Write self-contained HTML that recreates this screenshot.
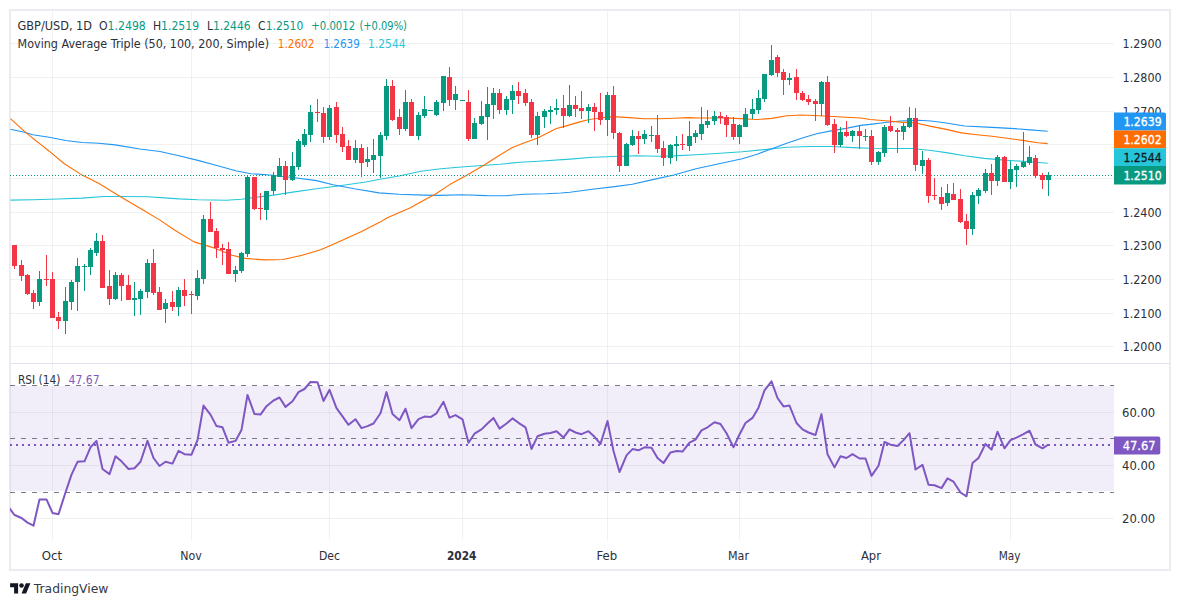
<!DOCTYPE html><html><head><meta charset="utf-8"><style>
html,body{margin:0;padding:0;background:#fff;}
body{width:1180px;height:607px;overflow:hidden;position:relative;}
svg{position:absolute;left:0;top:0;}
text{font-family:"DejaVu Sans","Liberation Sans",sans-serif;}
</style></head><body>
<svg width="1180" height="607" viewBox="0 0 1180 607">
<defs><clipPath id="mp"><rect x="10" y="10" width="1104" height="353"/></clipPath><clipPath id="rp"><rect x="10" y="364" width="1104" height="176"/></clipPath></defs>
<rect x="10" y="10" width="1160" height="560" fill="none" stroke="#eaecf1" stroke-width="2"/>
<rect x="10" y="346" width="1104" height="1" fill="rgba(42,46,57,0.065)"/>
<rect x="10" y="313" width="1104" height="1" fill="rgba(42,46,57,0.065)"/>
<rect x="10" y="279" width="1104" height="1" fill="rgba(42,46,57,0.065)"/>
<rect x="10" y="245" width="1104" height="1" fill="rgba(42,46,57,0.065)"/>
<rect x="10" y="212" width="1104" height="1" fill="rgba(42,46,57,0.065)"/>
<rect x="10" y="178" width="1104" height="1" fill="rgba(42,46,57,0.065)"/>
<rect x="10" y="144" width="1104" height="1" fill="rgba(42,46,57,0.065)"/>
<rect x="10" y="111" width="1104" height="1" fill="rgba(42,46,57,0.065)"/>
<rect x="10" y="77" width="1104" height="1" fill="rgba(42,46,57,0.065)"/>
<rect x="10" y="43" width="1104" height="1" fill="rgba(42,46,57,0.065)"/>
<rect x="52.0" y="11" width="1" height="352" fill="rgba(42,46,57,0.065)"/>
<rect x="52.0" y="364" width="1" height="176" fill="rgba(42,46,57,0.065)"/>
<rect x="191.0" y="11" width="1" height="352" fill="rgba(42,46,57,0.065)"/>
<rect x="191.0" y="364" width="1" height="176" fill="rgba(42,46,57,0.065)"/>
<rect x="329.0" y="11" width="1" height="352" fill="rgba(42,46,57,0.065)"/>
<rect x="329.0" y="364" width="1" height="176" fill="rgba(42,46,57,0.065)"/>
<rect x="462.0" y="11" width="1" height="352" fill="rgba(42,46,57,0.065)"/>
<rect x="462.0" y="364" width="1" height="176" fill="rgba(42,46,57,0.065)"/>
<rect x="607.0" y="11" width="1" height="352" fill="rgba(42,46,57,0.065)"/>
<rect x="607.0" y="364" width="1" height="176" fill="rgba(42,46,57,0.065)"/>
<rect x="739.0" y="11" width="1" height="352" fill="rgba(42,46,57,0.065)"/>
<rect x="739.0" y="364" width="1" height="176" fill="rgba(42,46,57,0.065)"/>
<rect x="871.0" y="11" width="1" height="352" fill="rgba(42,46,57,0.065)"/>
<rect x="871.0" y="364" width="1" height="176" fill="rgba(42,46,57,0.065)"/>
<rect x="1010.0" y="11" width="1" height="352" fill="rgba(42,46,57,0.065)"/>
<rect x="1010.0" y="364" width="1" height="176" fill="rgba(42,46,57,0.065)"/>
<rect x="10" y="363" width="1160" height="1" fill="#e0e3eb"/>
<rect x="10" y="386" width="1104" height="105" fill="#7e57c2" fill-opacity="0.1"/>
<rect x="10" y="412" width="1104" height="1" fill="rgba(42,46,57,0.065)"/>
<rect x="10" y="465" width="1104" height="1" fill="rgba(42,46,57,0.065)"/>
<rect x="10" y="518" width="1104" height="1" fill="rgba(42,46,57,0.065)"/>
<line x1="10" y1="385.5" x2="1114" y2="385.5" stroke="#787b86" stroke-width="1" stroke-dasharray="5 6"/>
<line x1="10" y1="438.5" x2="1114" y2="438.5" stroke="#787b86" stroke-width="1" stroke-dasharray="5 6"/>
<line x1="10" y1="492.5" x2="1114" y2="492.5" stroke="#787b86" stroke-width="1" stroke-dasharray="5 6"/>
<g clip-path="url(#mp)">
<polyline points="10.5,200.1 32.7,199.8 57.4,199.0 82.1,198.1 103.6,196.5 123.3,196.5 148.0,196.8 168.0,198.1 178.9,198.9 197.9,199.8 226.3,200.2 241.5,199.3 254.7,197.4 273.7,195.1 292.6,192.1 316.5,188.8 337.9,186.0 365.9,182.0 380.0,179.3 400.3,175.7 420.7,171.3 441.0,168.7 461.4,167.0 481.7,165.5 500.0,164.2 520.0,162.2 538.6,161.2 570.0,159.1 592.2,157.2 614.5,156.5 636.7,155.7 659.0,156.2 673.8,155.9 696.0,154.7 720.0,153.3 742.2,151.8 764.5,149.6 786.7,147.2 809.0,146.5 831.2,146.5 853.5,147.6 870.0,148.2 892.9,148.5 912.7,148.5 931.0,150.5 946.3,152.6 964.6,155.8 984.4,158.4 1007.3,160.4 1030.2,161.7 1047.7,163.3" fill="none" stroke="#26c6da" stroke-width="1.1" stroke-linejoin="round"/>
<polyline points="10.5,129.3 24.5,132.2 32.7,134.7 49.2,137.2 65.7,140.5 82.1,142.5 98.6,143.3 115.1,144.9 139.8,149.0 160.0,151.5 178.9,155.7 197.9,160.4 216.8,165.5 235.8,170.8 250.9,173.7 269.9,175.0 292.6,177.5 316.5,180.6 333.0,184.7 354.4,188.8 379.1,192.9 398.8,194.3 423.6,195.1 440.0,195.4 461.5,194.8 486.7,195.6 506.0,195.7 523.8,194.2 546.0,193.8 560.9,193.0 570.0,192.2 592.2,189.2 614.5,186.6 632.3,184.3 651.6,179.9 673.8,175.0 696.0,168.8 719.0,163.8 742.2,158.8 757.1,154.3 771.9,148.7 786.7,143.2 801.6,138.3 816.4,133.8 831.2,130.9 846.0,128.4 860.9,125.4 870.0,124.4 885.3,122.5 900.5,121.0 918.8,120.3 931.0,121.0 946.3,123.0 964.6,126.0 992.0,127.4 1014.9,128.6 1030.2,129.9 1047.7,131.2" fill="none" stroke="#2196f3" stroke-width="1.1" stroke-linejoin="round"/>
<polyline points="10.5,118.6 20.0,127.4 24.5,131.4 32.7,138.2 40.0,143.9 49.2,151.2 64.0,163.5 82.1,175.1 98.6,183.3 120.0,196.5 143.1,210.0 160.0,220.1 175.2,230.5 194.1,241.9 213.0,247.6 232.0,255.2 245.3,258.4 264.2,259.9 283.2,259.5 302.1,255.2 321.4,249.5 341.2,240.7 361.0,231.7 379.1,222.6 387.3,217.7 410.4,207.8 425.2,199.5 434.8,194.5 449.7,184.6 466.7,175.2 483.8,165.2 497.1,156.7 511.9,147.8 523.8,142.9 537.1,138.2 546.0,133.7 556.4,128.5 563.8,126.6 578.9,122.1 589.3,119.5 599.7,118.0 608.6,116.9 617.4,116.9 629.3,117.6 644.1,118.8 659.0,118.8 673.8,118.3 688.6,117.6 699.0,118.0 710.9,118.0 720.0,117.6 734.8,118.4 757.1,119.5 771.9,118.4 786.7,115.8 801.6,115.0 823.8,116.0 846.0,117.3 860.9,118.0 870.0,119.5 885.3,120.7 900.5,122.1 915.8,123.0 931.0,126.4 946.3,129.4 961.5,132.9 976.8,134.7 992.0,136.3 1007.3,138.3 1022.5,140.4 1037.8,142.7 1047.7,143.6" fill="none" stroke="#ff6d00" stroke-width="1.1" stroke-linejoin="round"/>
<line x1="10" y1="175.5" x2="1114" y2="175.5" stroke="#089981" stroke-width="1" stroke-dasharray="1 2"/>
<rect x="14" y="245" width="1" height="24" fill="#f23645"/>
<rect x="12" y="245" width="5" height="21" fill="#f23645"/>
<rect x="21" y="260" width="1" height="21" fill="#f23645"/>
<rect x="19" y="265" width="5" height="11" fill="#f23645"/>
<rect x="27" y="274" width="1" height="21" fill="#f23645"/>
<rect x="25" y="275" width="5" height="19" fill="#f23645"/>
<rect x="33" y="290" width="1" height="19" fill="#f23645"/>
<rect x="31" y="293" width="5" height="9" fill="#f23645"/>
<rect x="39" y="271" width="1" height="35" fill="#089981"/>
<rect x="37" y="279" width="5" height="23" fill="#089981"/>
<rect x="46" y="255" width="1" height="31" fill="#f23645"/>
<rect x="44" y="279" width="5" height="1" fill="#f23645"/>
<rect x="52" y="272" width="1" height="46" fill="#f23645"/>
<rect x="50" y="279" width="5" height="39" fill="#f23645"/>
<rect x="58" y="312" width="1" height="17" fill="#f23645"/>
<rect x="56" y="317" width="5" height="4" fill="#f23645"/>
<rect x="65" y="287" width="1" height="47" fill="#089981"/>
<rect x="63" y="301" width="5" height="20" fill="#089981"/>
<rect x="71" y="280" width="1" height="30" fill="#089981"/>
<rect x="69" y="282" width="5" height="20" fill="#089981"/>
<rect x="77" y="258" width="1" height="53" fill="#089981"/>
<rect x="75" y="266" width="5" height="16" fill="#089981"/>
<rect x="84" y="264" width="1" height="27" fill="#089981"/>
<rect x="82" y="266" width="5" height="1" fill="#089981"/>
<rect x="90" y="248" width="1" height="27" fill="#089981"/>
<rect x="88" y="250" width="5" height="17" fill="#089981"/>
<rect x="96" y="233" width="1" height="23" fill="#089981"/>
<rect x="94" y="241" width="5" height="12" fill="#089981"/>
<rect x="102" y="235" width="1" height="53" fill="#f23645"/>
<rect x="100" y="241" width="5" height="47" fill="#f23645"/>
<rect x="109" y="270" width="1" height="35" fill="#f23645"/>
<rect x="107" y="286" width="5" height="13" fill="#f23645"/>
<rect x="115" y="272" width="1" height="28" fill="#089981"/>
<rect x="113" y="275" width="5" height="24" fill="#089981"/>
<rect x="121" y="273" width="1" height="28" fill="#f23645"/>
<rect x="119" y="275" width="5" height="11" fill="#f23645"/>
<rect x="128" y="275" width="1" height="25" fill="#f23645"/>
<rect x="126" y="285" width="5" height="15" fill="#f23645"/>
<rect x="134" y="282" width="1" height="34" fill="#089981"/>
<rect x="132" y="298" width="5" height="2" fill="#089981"/>
<rect x="140" y="289" width="1" height="26" fill="#089981"/>
<rect x="138" y="291" width="5" height="8" fill="#089981"/>
<rect x="147" y="259" width="1" height="39" fill="#089981"/>
<rect x="145" y="263" width="5" height="29" fill="#089981"/>
<rect x="153" y="249" width="1" height="46" fill="#f23645"/>
<rect x="151" y="263" width="5" height="30" fill="#f23645"/>
<rect x="159" y="287" width="1" height="23" fill="#f23645"/>
<rect x="157" y="292" width="5" height="18" fill="#f23645"/>
<rect x="165" y="299" width="1" height="24" fill="#089981"/>
<rect x="163" y="303" width="5" height="6" fill="#089981"/>
<rect x="172" y="291" width="1" height="20" fill="#f23645"/>
<rect x="170" y="302" width="5" height="5" fill="#f23645"/>
<rect x="178" y="287" width="1" height="29" fill="#089981"/>
<rect x="176" y="290" width="5" height="17" fill="#089981"/>
<rect x="184" y="279" width="1" height="27" fill="#f23645"/>
<rect x="182" y="290" width="5" height="6" fill="#f23645"/>
<rect x="191" y="291" width="1" height="23" fill="#f23645"/>
<rect x="189" y="294" width="5" height="1" fill="#f23645"/>
<rect x="197" y="270" width="1" height="30" fill="#089981"/>
<rect x="195" y="278" width="5" height="18" fill="#089981"/>
<rect x="203" y="215" width="1" height="69" fill="#089981"/>
<rect x="201" y="219" width="5" height="60" fill="#089981"/>
<rect x="210" y="202" width="1" height="30" fill="#f23645"/>
<rect x="208" y="219" width="5" height="13" fill="#f23645"/>
<rect x="216" y="228" width="1" height="30" fill="#f23645"/>
<rect x="214" y="231" width="5" height="17" fill="#f23645"/>
<rect x="222" y="244" width="1" height="21" fill="#f23645"/>
<rect x="220" y="248" width="5" height="2" fill="#f23645"/>
<rect x="228" y="242" width="1" height="32" fill="#f23645"/>
<rect x="226" y="249" width="5" height="25" fill="#f23645"/>
<rect x="235" y="266" width="1" height="16" fill="#089981"/>
<rect x="233" y="270" width="5" height="4" fill="#089981"/>
<rect x="241" y="252" width="1" height="21" fill="#089981"/>
<rect x="239" y="253" width="5" height="18" fill="#089981"/>
<rect x="247" y="175" width="1" height="82" fill="#089981"/>
<rect x="245" y="177" width="5" height="77" fill="#089981"/>
<rect x="254" y="177" width="1" height="33" fill="#f23645"/>
<rect x="252" y="177" width="5" height="32" fill="#f23645"/>
<rect x="260" y="193" width="1" height="27" fill="#f23645"/>
<rect x="258" y="208" width="5" height="1" fill="#f23645"/>
<rect x="266" y="191" width="1" height="29" fill="#089981"/>
<rect x="264" y="191" width="5" height="19" fill="#089981"/>
<rect x="273" y="172" width="1" height="23" fill="#089981"/>
<rect x="271" y="175" width="5" height="16" fill="#089981"/>
<rect x="279" y="158" width="1" height="19" fill="#089981"/>
<rect x="277" y="166" width="5" height="11" fill="#089981"/>
<rect x="285" y="161" width="1" height="34" fill="#f23645"/>
<rect x="283" y="166" width="5" height="14" fill="#f23645"/>
<rect x="292" y="152" width="1" height="29" fill="#089981"/>
<rect x="290" y="166" width="5" height="14" fill="#089981"/>
<rect x="298" y="139" width="1" height="31" fill="#089981"/>
<rect x="296" y="141" width="5" height="26" fill="#089981"/>
<rect x="304" y="129" width="1" height="18" fill="#089981"/>
<rect x="302" y="134" width="5" height="11" fill="#089981"/>
<rect x="310" y="105" width="1" height="37" fill="#089981"/>
<rect x="308" y="112" width="5" height="23" fill="#089981"/>
<rect x="317" y="99" width="1" height="23" fill="#f23645"/>
<rect x="315" y="112" width="5" height="1" fill="#f23645"/>
<rect x="323" y="107" width="1" height="36" fill="#f23645"/>
<rect x="321" y="113" width="5" height="24" fill="#f23645"/>
<rect x="329" y="105" width="1" height="35" fill="#089981"/>
<rect x="327" y="108" width="5" height="29" fill="#089981"/>
<rect x="336" y="102" width="1" height="41" fill="#f23645"/>
<rect x="334" y="107" width="5" height="28" fill="#f23645"/>
<rect x="342" y="127" width="1" height="25" fill="#f23645"/>
<rect x="340" y="134" width="5" height="13" fill="#f23645"/>
<rect x="348" y="140" width="1" height="20" fill="#f23645"/>
<rect x="346" y="146" width="5" height="14" fill="#f23645"/>
<rect x="355" y="140" width="1" height="23" fill="#089981"/>
<rect x="353" y="148" width="5" height="12" fill="#089981"/>
<rect x="361" y="144" width="1" height="33" fill="#f23645"/>
<rect x="359" y="148" width="5" height="15" fill="#f23645"/>
<rect x="367" y="147" width="1" height="20" fill="#089981"/>
<rect x="365" y="159" width="5" height="3" fill="#089981"/>
<rect x="373" y="139" width="1" height="34" fill="#089981"/>
<rect x="371" y="155" width="5" height="5" fill="#089981"/>
<rect x="380" y="132" width="1" height="46" fill="#089981"/>
<rect x="378" y="135" width="5" height="21" fill="#089981"/>
<rect x="386" y="79" width="1" height="61" fill="#089981"/>
<rect x="384" y="86" width="5" height="50" fill="#089981"/>
<rect x="392" y="80" width="1" height="41" fill="#f23645"/>
<rect x="390" y="86" width="5" height="34" fill="#f23645"/>
<rect x="399" y="109" width="1" height="26" fill="#f23645"/>
<rect x="397" y="117" width="5" height="12" fill="#f23645"/>
<rect x="405" y="90" width="1" height="41" fill="#089981"/>
<rect x="403" y="102" width="5" height="27" fill="#089981"/>
<rect x="411" y="99" width="1" height="37" fill="#f23645"/>
<rect x="409" y="102" width="5" height="34" fill="#f23645"/>
<rect x="418" y="112" width="1" height="28" fill="#089981"/>
<rect x="416" y="115" width="5" height="21" fill="#089981"/>
<rect x="424" y="96" width="1" height="22" fill="#089981"/>
<rect x="422" y="109" width="5" height="7" fill="#089981"/>
<rect x="430" y="110" width="1" height="1" fill="#089981"/>
<rect x="428" y="110" width="5" height="1" fill="#089981"/>
<rect x="436" y="100" width="1" height="16" fill="#089981"/>
<rect x="434" y="102" width="5" height="13" fill="#089981"/>
<rect x="443" y="76" width="1" height="35" fill="#089981"/>
<rect x="441" y="76" width="5" height="27" fill="#089981"/>
<rect x="449" y="67" width="1" height="39" fill="#f23645"/>
<rect x="447" y="77" width="5" height="23" fill="#f23645"/>
<rect x="455" y="86" width="1" height="24" fill="#089981"/>
<rect x="453" y="94" width="5" height="6" fill="#089981"/>
<rect x="462" y="100" width="1" height="1" fill="#089981"/>
<rect x="460" y="100" width="5" height="1" fill="#089981"/>
<rect x="468" y="90" width="1" height="51" fill="#f23645"/>
<rect x="466" y="102" width="5" height="37" fill="#f23645"/>
<rect x="474" y="118" width="1" height="21" fill="#089981"/>
<rect x="472" y="123" width="5" height="16" fill="#089981"/>
<rect x="481" y="101" width="1" height="24" fill="#089981"/>
<rect x="479" y="116" width="5" height="8" fill="#089981"/>
<rect x="487" y="87" width="1" height="53" fill="#089981"/>
<rect x="485" y="104" width="5" height="13" fill="#089981"/>
<rect x="493" y="88" width="1" height="31" fill="#089981"/>
<rect x="491" y="93" width="5" height="12" fill="#089981"/>
<rect x="499" y="89" width="1" height="25" fill="#f23645"/>
<rect x="497" y="93" width="5" height="17" fill="#f23645"/>
<rect x="506" y="96" width="1" height="19" fill="#089981"/>
<rect x="504" y="99" width="5" height="11" fill="#089981"/>
<rect x="512" y="85" width="1" height="29" fill="#089981"/>
<rect x="510" y="91" width="5" height="9" fill="#089981"/>
<rect x="518" y="82" width="1" height="22" fill="#f23645"/>
<rect x="516" y="91" width="5" height="5" fill="#f23645"/>
<rect x="525" y="89" width="1" height="17" fill="#f23645"/>
<rect x="523" y="93" width="5" height="10" fill="#f23645"/>
<rect x="531" y="99" width="1" height="39" fill="#f23645"/>
<rect x="529" y="102" width="5" height="33" fill="#f23645"/>
<rect x="537" y="112" width="1" height="33" fill="#089981"/>
<rect x="535" y="116" width="5" height="19" fill="#089981"/>
<rect x="544" y="109" width="1" height="19" fill="#089981"/>
<rect x="542" y="111" width="5" height="6" fill="#089981"/>
<rect x="550" y="106" width="1" height="18" fill="#089981"/>
<rect x="548" y="110" width="5" height="2" fill="#089981"/>
<rect x="556" y="99" width="1" height="16" fill="#089981"/>
<rect x="554" y="108" width="5" height="2" fill="#089981"/>
<rect x="563" y="95" width="1" height="33" fill="#f23645"/>
<rect x="561" y="108" width="5" height="8" fill="#f23645"/>
<rect x="569" y="85" width="1" height="32" fill="#089981"/>
<rect x="567" y="105" width="5" height="11" fill="#089981"/>
<rect x="575" y="96" width="1" height="21" fill="#f23645"/>
<rect x="573" y="105" width="5" height="4" fill="#f23645"/>
<rect x="581" y="91" width="1" height="28" fill="#f23645"/>
<rect x="579" y="108" width="5" height="3" fill="#f23645"/>
<rect x="588" y="104" width="1" height="19" fill="#089981"/>
<rect x="586" y="107" width="5" height="4" fill="#089981"/>
<rect x="594" y="103" width="1" height="28" fill="#f23645"/>
<rect x="592" y="107" width="5" height="5" fill="#f23645"/>
<rect x="600" y="93" width="1" height="32" fill="#f23645"/>
<rect x="598" y="112" width="5" height="8" fill="#f23645"/>
<rect x="607" y="92" width="1" height="44" fill="#089981"/>
<rect x="605" y="95" width="5" height="25" fill="#089981"/>
<rect x="613" y="86" width="1" height="53" fill="#f23645"/>
<rect x="611" y="95" width="5" height="38" fill="#f23645"/>
<rect x="619" y="132" width="1" height="40" fill="#f23645"/>
<rect x="617" y="133" width="5" height="33" fill="#f23645"/>
<rect x="626" y="143" width="1" height="23" fill="#089981"/>
<rect x="624" y="144" width="5" height="22" fill="#089981"/>
<rect x="632" y="130" width="1" height="16" fill="#089981"/>
<rect x="630" y="136" width="5" height="9" fill="#089981"/>
<rect x="638" y="131" width="1" height="23" fill="#f23645"/>
<rect x="636" y="136" width="5" height="3" fill="#f23645"/>
<rect x="644" y="130" width="1" height="14" fill="#089981"/>
<rect x="642" y="134" width="5" height="5" fill="#089981"/>
<rect x="651" y="126" width="1" height="16" fill="#089981"/>
<rect x="649" y="135" width="5" height="1" fill="#089981"/>
<rect x="657" y="115" width="1" height="38" fill="#f23645"/>
<rect x="655" y="135" width="5" height="14" fill="#f23645"/>
<rect x="663" y="141" width="1" height="25" fill="#f23645"/>
<rect x="661" y="148" width="5" height="10" fill="#f23645"/>
<rect x="670" y="144" width="1" height="20" fill="#089981"/>
<rect x="668" y="145" width="5" height="13" fill="#089981"/>
<rect x="676" y="136" width="1" height="25" fill="#089981"/>
<rect x="674" y="144" width="5" height="2" fill="#089981"/>
<rect x="682" y="134" width="1" height="16" fill="#f23645"/>
<rect x="680" y="144" width="5" height="1" fill="#f23645"/>
<rect x="689" y="121" width="1" height="30" fill="#089981"/>
<rect x="687" y="136" width="5" height="10" fill="#089981"/>
<rect x="695" y="130" width="1" height="13" fill="#089981"/>
<rect x="693" y="133" width="5" height="4" fill="#089981"/>
<rect x="701" y="107" width="1" height="33" fill="#089981"/>
<rect x="699" y="124" width="5" height="10" fill="#089981"/>
<rect x="707" y="110" width="1" height="18" fill="#089981"/>
<rect x="705" y="121" width="5" height="4" fill="#089981"/>
<rect x="714" y="111" width="1" height="14" fill="#089981"/>
<rect x="712" y="116" width="5" height="5" fill="#089981"/>
<rect x="720" y="112" width="1" height="12" fill="#f23645"/>
<rect x="718" y="116" width="5" height="2" fill="#f23645"/>
<rect x="726" y="115" width="1" height="22" fill="#f23645"/>
<rect x="724" y="117" width="5" height="8" fill="#f23645"/>
<rect x="733" y="117" width="1" height="23" fill="#f23645"/>
<rect x="731" y="124" width="5" height="13" fill="#f23645"/>
<rect x="739" y="124" width="1" height="20" fill="#089981"/>
<rect x="737" y="125" width="5" height="12" fill="#089981"/>
<rect x="745" y="108" width="1" height="19" fill="#089981"/>
<rect x="743" y="114" width="5" height="13" fill="#089981"/>
<rect x="752" y="99" width="1" height="20" fill="#089981"/>
<rect x="750" y="109" width="5" height="5" fill="#089981"/>
<rect x="758" y="90" width="1" height="24" fill="#089981"/>
<rect x="756" y="98" width="5" height="12" fill="#089981"/>
<rect x="764" y="74" width="1" height="28" fill="#089981"/>
<rect x="762" y="74" width="5" height="25" fill="#089981"/>
<rect x="771" y="45" width="1" height="31" fill="#089981"/>
<rect x="769" y="60" width="5" height="15" fill="#089981"/>
<rect x="777" y="55" width="1" height="22" fill="#f23645"/>
<rect x="775" y="57" width="5" height="16" fill="#f23645"/>
<rect x="783" y="69" width="1" height="26" fill="#f23645"/>
<rect x="781" y="72" width="5" height="8" fill="#f23645"/>
<rect x="789" y="73" width="1" height="12" fill="#089981"/>
<rect x="787" y="78" width="5" height="2" fill="#089981"/>
<rect x="796" y="69" width="1" height="31" fill="#f23645"/>
<rect x="794" y="77" width="5" height="16" fill="#f23645"/>
<rect x="802" y="91" width="1" height="10" fill="#f23645"/>
<rect x="800" y="93" width="5" height="7" fill="#f23645"/>
<rect x="808" y="95" width="1" height="10" fill="#f23645"/>
<rect x="806" y="99" width="5" height="3" fill="#f23645"/>
<rect x="815" y="99" width="1" height="22" fill="#f23645"/>
<rect x="813" y="101" width="5" height="3" fill="#f23645"/>
<rect x="821" y="81" width="1" height="35" fill="#089981"/>
<rect x="819" y="82" width="5" height="22" fill="#089981"/>
<rect x="827" y="76" width="1" height="50" fill="#f23645"/>
<rect x="825" y="82" width="5" height="43" fill="#f23645"/>
<rect x="834" y="119" width="1" height="34" fill="#f23645"/>
<rect x="832" y="124" width="5" height="21" fill="#f23645"/>
<rect x="840" y="127" width="1" height="20" fill="#089981"/>
<rect x="838" y="132" width="5" height="13" fill="#089981"/>
<rect x="846" y="121" width="1" height="16" fill="#f23645"/>
<rect x="844" y="132" width="5" height="4" fill="#f23645"/>
<rect x="852" y="130" width="1" height="12" fill="#089981"/>
<rect x="850" y="131" width="5" height="5" fill="#089981"/>
<rect x="859" y="126" width="1" height="23" fill="#f23645"/>
<rect x="857" y="131" width="5" height="5" fill="#f23645"/>
<rect x="865" y="129" width="1" height="12" fill="#089981"/>
<rect x="863" y="136" width="5" height="1" fill="#089981"/>
<rect x="871" y="130" width="1" height="35" fill="#f23645"/>
<rect x="869" y="136" width="5" height="26" fill="#f23645"/>
<rect x="878" y="151" width="1" height="14" fill="#089981"/>
<rect x="876" y="152" width="5" height="10" fill="#089981"/>
<rect x="884" y="125" width="1" height="32" fill="#089981"/>
<rect x="882" y="127" width="5" height="26" fill="#089981"/>
<rect x="890" y="116" width="1" height="16" fill="#f23645"/>
<rect x="888" y="126" width="5" height="5" fill="#f23645"/>
<rect x="897" y="128" width="1" height="25" fill="#f23645"/>
<rect x="895" y="130" width="5" height="2" fill="#f23645"/>
<rect x="903" y="123" width="1" height="17" fill="#089981"/>
<rect x="901" y="126" width="5" height="6" fill="#089981"/>
<rect x="909" y="107" width="1" height="21" fill="#089981"/>
<rect x="907" y="118" width="5" height="9" fill="#089981"/>
<rect x="915" y="108" width="1" height="63" fill="#f23645"/>
<rect x="913" y="118" width="5" height="47" fill="#f23645"/>
<rect x="922" y="151" width="1" height="23" fill="#089981"/>
<rect x="920" y="160" width="5" height="6" fill="#089981"/>
<rect x="928" y="158" width="1" height="45" fill="#f23645"/>
<rect x="926" y="160" width="5" height="36" fill="#f23645"/>
<rect x="934" y="178" width="1" height="22" fill="#f23645"/>
<rect x="932" y="195" width="5" height="1" fill="#f23645"/>
<rect x="941" y="187" width="1" height="23" fill="#f23645"/>
<rect x="939" y="197" width="5" height="7" fill="#f23645"/>
<rect x="947" y="184" width="1" height="22" fill="#089981"/>
<rect x="945" y="193" width="5" height="10" fill="#089981"/>
<rect x="953" y="183" width="1" height="17" fill="#f23645"/>
<rect x="951" y="194" width="5" height="6" fill="#f23645"/>
<rect x="960" y="189" width="1" height="34" fill="#f23645"/>
<rect x="958" y="199" width="5" height="23" fill="#f23645"/>
<rect x="966" y="214" width="1" height="31" fill="#f23645"/>
<rect x="964" y="221" width="5" height="8" fill="#f23645"/>
<rect x="972" y="192" width="1" height="43" fill="#089981"/>
<rect x="970" y="195" width="5" height="34" fill="#089981"/>
<rect x="978" y="188" width="1" height="16" fill="#089981"/>
<rect x="976" y="190" width="5" height="6" fill="#089981"/>
<rect x="985" y="169" width="1" height="24" fill="#089981"/>
<rect x="983" y="173" width="5" height="18" fill="#089981"/>
<rect x="991" y="164" width="1" height="31" fill="#f23645"/>
<rect x="989" y="173" width="5" height="8" fill="#f23645"/>
<rect x="997" y="155" width="1" height="31" fill="#089981"/>
<rect x="995" y="157" width="5" height="24" fill="#089981"/>
<rect x="1004" y="156" width="1" height="26" fill="#f23645"/>
<rect x="1002" y="157" width="5" height="25" fill="#f23645"/>
<rect x="1010" y="161" width="1" height="28" fill="#089981"/>
<rect x="1008" y="169" width="5" height="13" fill="#089981"/>
<rect x="1016" y="164" width="1" height="23" fill="#089981"/>
<rect x="1014" y="166" width="5" height="4" fill="#089981"/>
<rect x="1023" y="132" width="1" height="36" fill="#089981"/>
<rect x="1021" y="162" width="5" height="5" fill="#089981"/>
<rect x="1029" y="146" width="1" height="19" fill="#089981"/>
<rect x="1027" y="157" width="5" height="6" fill="#089981"/>
<rect x="1035" y="155" width="1" height="23" fill="#f23645"/>
<rect x="1033" y="158" width="5" height="18" fill="#f23645"/>
<rect x="1042" y="173" width="1" height="16" fill="#f23645"/>
<rect x="1040" y="175" width="5" height="5" fill="#f23645"/>
<rect x="1048" y="172" width="1" height="24" fill="#089981"/>
<rect x="1046" y="175" width="5" height="5" fill="#089981"/>
</g>
<g clip-path="url(#rp)">
<line x1="10" y1="445" x2="1114" y2="445" stroke="#7e57c2" stroke-width="2" stroke-dasharray="2 4"/>
<polyline points="8.5,507.0 14.5,515.0 21.5,518.0 27.5,522.6 33.5,525.7 39.5,499.4 46.5,499.4 52.5,512.9 58.5,514.2 65.5,492.5 71.5,474.6 77.5,461.8 84.5,461.3 90.5,447.3 96.5,440.9 102.5,469.0 109.5,474.1 115.5,456.2 121.5,461.3 128.5,469.0 134.5,468.2 140.5,461.8 147.5,440.9 153.5,458.0 159.5,466.0 165.5,461.8 172.5,463.6 178.5,450.8 184.5,454.2 191.5,454.7 197.5,440.1 203.5,405.6 210.5,414.6 216.5,426.1 222.5,427.3 228.5,442.7 235.5,440.9 241.5,429.9 247.5,394.9 254.5,414.1 260.5,414.6 266.5,406.2 273.5,400.5 279.5,397.5 285.5,406.9 292.5,401.3 298.5,392.1 304.5,389.0 310.5,381.9 317.5,382.2 323.5,401.0 329.5,389.8 336.5,408.2 342.5,416.4 348.5,424.8 355.5,419.2 361.5,428.1 367.5,426.1 373.5,423.5 380.5,413.3 386.5,392.1 392.5,414.1 399.5,420.2 405.5,408.7 411.5,428.1 418.5,419.2 424.5,416.6 430.5,417.1 436.5,413.3 443.5,401.8 449.5,417.6 455.5,415.1 462.5,419.3 468.5,442.7 474.5,433.7 481.5,429.4 487.5,423.5 493.5,417.9 499.5,428.6 506.5,423.5 512.5,418.4 518.5,422.8 525.5,427.3 531.5,449.1 537.5,436.3 544.5,433.7 550.5,433.0 556.5,431.2 563.5,437.6 569.5,429.4 575.5,432.5 581.5,434.2 588.5,431.2 594.5,436.8 600.5,443.9 607.5,421.0 613.5,451.0 619.5,472.0 626.5,455.4 632.5,449.1 638.5,450.3 644.5,447.3 651.5,447.8 657.5,458.0 663.5,463.1 670.5,452.4 676.5,451.1 682.5,451.6 689.5,442.7 695.5,439.6 701.5,430.4 707.5,427.3 714.5,422.2 720.5,424.0 726.5,433.2 733.5,447.3 739.5,434.5 745.5,423.0 752.5,417.9 758.5,407.7 764.5,390.3 771.5,381.4 777.5,398.0 783.5,406.4 789.5,405.6 796.5,423.0 802.5,429.4 808.5,432.5 815.5,435.0 821.5,414.1 827.5,454.2 834.5,467.4 840.5,456.2 846.5,458.0 852.5,454.2 859.5,458.5 865.5,458.5 871.5,475.9 878.5,465.7 884.5,441.9 890.5,444.7 897.5,446.0 903.5,440.1 909.5,433.2 915.5,469.5 922.5,464.9 928.5,484.8 934.5,485.3 941.5,488.1 947.5,478.4 953.5,481.7 960.5,492.5 966.5,496.3 972.5,463.1 978.5,458.0 985.5,443.9 991.5,449.6 997.5,431.7 1004.5,448.3 1010.5,440.1 1016.5,437.6 1023.5,434.2 1029.5,430.7 1035.5,444.5 1042.5,448.3 1048.5,444.5" fill="none" stroke="#7e57c2" stroke-width="2" stroke-linejoin="round"/>
</g>
<text x="1122.6" y="351.1" font-family="DejaVu Sans Condensed, DejaVu Sans, Liberation Sans, sans-serif" font-size="12" fill="#2c303b" textLength="39" lengthAdjust="spacingAndGlyphs">1.2000</text>
<text x="1122.6" y="318.1" font-family="DejaVu Sans Condensed, DejaVu Sans, Liberation Sans, sans-serif" font-size="12" fill="#2c303b" textLength="39" lengthAdjust="spacingAndGlyphs">1.2100</text>
<text x="1122.6" y="284.1" font-family="DejaVu Sans Condensed, DejaVu Sans, Liberation Sans, sans-serif" font-size="12" fill="#2c303b" textLength="39" lengthAdjust="spacingAndGlyphs">1.2200</text>
<text x="1122.6" y="250.1" font-family="DejaVu Sans Condensed, DejaVu Sans, Liberation Sans, sans-serif" font-size="12" fill="#2c303b" textLength="39" lengthAdjust="spacingAndGlyphs">1.2300</text>
<text x="1122.6" y="217.1" font-family="DejaVu Sans Condensed, DejaVu Sans, Liberation Sans, sans-serif" font-size="12" fill="#2c303b" textLength="39" lengthAdjust="spacingAndGlyphs">1.2400</text>
<text x="1122.6" y="116.1" font-family="DejaVu Sans Condensed, DejaVu Sans, Liberation Sans, sans-serif" font-size="12" fill="#2c303b" textLength="39" lengthAdjust="spacingAndGlyphs">1.2700</text>
<text x="1122.6" y="82.1" font-family="DejaVu Sans Condensed, DejaVu Sans, Liberation Sans, sans-serif" font-size="12" fill="#2c303b" textLength="39" lengthAdjust="spacingAndGlyphs">1.2800</text>
<text x="1122.6" y="48.1" font-family="DejaVu Sans Condensed, DejaVu Sans, Liberation Sans, sans-serif" font-size="12" fill="#2c303b" textLength="39" lengthAdjust="spacingAndGlyphs">1.2900</text>
<path d="M1114,112.5 H1164 Q1166,112.5 1166,114.5 V130.5 H1114 Z" fill="#2196f3"/>
<text x="1123.4" y="125.9" font-family="DejaVu Sans Condensed, DejaVu Sans, Liberation Sans, sans-serif" font-size="12" fill="#fff" stroke="#fff" stroke-width="0.3" textLength="38.2" lengthAdjust="spacingAndGlyphs">1.2639</text>
<path d="M1114,130.5 H1166 V148.2 H1114 Z" fill="#ff6d00"/>
<text x="1123.4" y="143.8" font-family="DejaVu Sans Condensed, DejaVu Sans, Liberation Sans, sans-serif" font-size="12" fill="#fff" stroke="#fff" stroke-width="0.3" textLength="38.2" lengthAdjust="spacingAndGlyphs">1.2602</text>
<path d="M1114,148.2 H1166 V166.0 H1114 Z" fill="#26c6da"/>
<text x="1123.4" y="161.5" font-family="DejaVu Sans Condensed, DejaVu Sans, Liberation Sans, sans-serif" font-size="12" fill="#131722" stroke="#131722" stroke-width="0.3" textLength="38.2" lengthAdjust="spacingAndGlyphs">1.2544</text>
<path d="M1114,166.0 H1166 V182.5 Q1166,184.5 1164,184.5 H1114 Z" fill="#089981"/>
<text x="1123.4" y="179.7" font-family="DejaVu Sans Condensed, DejaVu Sans, Liberation Sans, sans-serif" font-size="12" fill="#fff" stroke="#fff" stroke-width="0.3" textLength="38.2" lengthAdjust="spacingAndGlyphs">1.2510</text>
<text x="1122.0" y="417.1" font-family="DejaVu Sans Condensed, DejaVu Sans, Liberation Sans, sans-serif" font-size="12" fill="#2c303b" textLength="33.2" lengthAdjust="spacingAndGlyphs">60.00</text>
<text x="1122.0" y="470.1" font-family="DejaVu Sans Condensed, DejaVu Sans, Liberation Sans, sans-serif" font-size="12" fill="#2c303b" textLength="33.2" lengthAdjust="spacingAndGlyphs">40.00</text>
<text x="1122.0" y="523.1" font-family="DejaVu Sans Condensed, DejaVu Sans, Liberation Sans, sans-serif" font-size="12" fill="#2c303b" textLength="33.2" lengthAdjust="spacingAndGlyphs">20.00</text>
<path d="M1114,436.4 H1158.3 Q1160.3,436.4 1160.3,438.4 V452.6 Q1160.3,454.6 1158.3,454.6 H1114 Z" fill="#7e57c2"/>
<text x="1122.8" y="449.5" font-family="DejaVu Sans Condensed, DejaVu Sans, Liberation Sans, sans-serif" font-size="12" fill="#fff" stroke="#fff" stroke-width="0.3" textLength="32.8" lengthAdjust="spacingAndGlyphs">47.67</text>
<text x="41.8" y="560" font-family="DejaVu Sans Condensed, DejaVu Sans, Liberation Sans, sans-serif" font-size="12.3" fill="#2c303b" textLength="20.3" lengthAdjust="spacingAndGlyphs">Oct</text>
<text x="180.2" y="560" font-family="DejaVu Sans Condensed, DejaVu Sans, Liberation Sans, sans-serif" font-size="12.3" fill="#2c303b" textLength="21.5" lengthAdjust="spacingAndGlyphs">Nov</text>
<text x="319.0" y="560" font-family="DejaVu Sans Condensed, DejaVu Sans, Liberation Sans, sans-serif" font-size="12.3" fill="#2c303b" textLength="21.0" lengthAdjust="spacingAndGlyphs">Dec</text>
<text x="447.0" y="560" font-family="DejaVu Sans Condensed, DejaVu Sans, Liberation Sans, sans-serif" font-size="12.3" fill="#2c303b" textLength="29.5" lengthAdjust="spacingAndGlyphs" font-weight="bold">2024</text>
<text x="596.4" y="560" font-family="DejaVu Sans Condensed, DejaVu Sans, Liberation Sans, sans-serif" font-size="12.3" fill="#2c303b" textLength="20.7" lengthAdjust="spacingAndGlyphs">Feb</text>
<text x="728.0" y="560" font-family="DejaVu Sans Condensed, DejaVu Sans, Liberation Sans, sans-serif" font-size="12.3" fill="#2c303b" textLength="21.0" lengthAdjust="spacingAndGlyphs">Mar</text>
<text x="860.9" y="560" font-family="DejaVu Sans Condensed, DejaVu Sans, Liberation Sans, sans-serif" font-size="12.3" fill="#2c303b" textLength="20.0" lengthAdjust="spacingAndGlyphs">Apr</text>
<text x="998.7" y="560" font-family="DejaVu Sans Condensed, DejaVu Sans, Liberation Sans, sans-serif" font-size="12.3" fill="#2c303b" textLength="21.8" lengthAdjust="spacingAndGlyphs">May</text>
<text x="17.6" y="30.2" font-family="DejaVu Sans Condensed, DejaVu Sans, Liberation Sans, sans-serif" font-size="12" fill="#2c303b" textLength="74.4" lengthAdjust="spacingAndGlyphs">GBP/USD, 1D</text>
<text x="99.0" y="30.2" font-family="DejaVu Sans Condensed, DejaVu Sans, Liberation Sans, sans-serif" font-size="12" fill="#2c303b" textLength="46.8" lengthAdjust="spacingAndGlyphs">O<tspan fill="#089981">1.2498</tspan></text>
<text x="152.9" y="30.2" font-family="DejaVu Sans Condensed, DejaVu Sans, Liberation Sans, sans-serif" font-size="12" fill="#2c303b" textLength="46.2" lengthAdjust="spacingAndGlyphs">H<tspan fill="#089981">1.2519</tspan></text>
<text x="206.9" y="30.2" font-family="DejaVu Sans Condensed, DejaVu Sans, Liberation Sans, sans-serif" font-size="12" fill="#2c303b" textLength="43.8" lengthAdjust="spacingAndGlyphs">L<tspan fill="#089981">1.2446</tspan></text>
<text x="258.1" y="30.2" font-family="DejaVu Sans Condensed, DejaVu Sans, Liberation Sans, sans-serif" font-size="12" fill="#2c303b" textLength="45.2" lengthAdjust="spacingAndGlyphs">C<tspan fill="#089981">1.2510</tspan></text>
<text x="311.3" y="30.2" font-family="DejaVu Sans Condensed, DejaVu Sans, Liberation Sans, sans-serif" font-size="12" fill="#089981" textLength="43.8" lengthAdjust="spacingAndGlyphs">+0.0012</text>
<text x="359.4" y="30.2" font-family="DejaVu Sans Condensed, DejaVu Sans, Liberation Sans, sans-serif" font-size="12" fill="#089981" textLength="47.6" lengthAdjust="spacingAndGlyphs">(+0.09%)</text>
<text x="17.6" y="47.5" font-family="DejaVu Sans Condensed, DejaVu Sans, Liberation Sans, sans-serif" font-size="12" fill="#2c303b" textLength="251.4" lengthAdjust="spacingAndGlyphs">Moving Average Triple (50, 100, 200, Simple)</text>
<text x="277.7" y="47.5" font-family="DejaVu Sans Condensed, DejaVu Sans, Liberation Sans, sans-serif" font-size="12" fill="#ff6d00" textLength="36.8" lengthAdjust="spacingAndGlyphs">1.2602</text>
<text x="323.4" y="47.5" font-family="DejaVu Sans Condensed, DejaVu Sans, Liberation Sans, sans-serif" font-size="12" fill="#2196f3" textLength="36.4" lengthAdjust="spacingAndGlyphs">1.2639</text>
<text x="368.1" y="47.5" font-family="DejaVu Sans Condensed, DejaVu Sans, Liberation Sans, sans-serif" font-size="12" fill="#26c6da" textLength="37.4" lengthAdjust="spacingAndGlyphs">1.2544</text>
<text x="17.9" y="383.7" font-family="DejaVu Sans Condensed, DejaVu Sans, Liberation Sans, sans-serif" font-size="12" fill="#2c303b" textLength="42.5" lengthAdjust="spacingAndGlyphs">RSI (14)</text>
<text x="68.6" y="383.7" font-family="DejaVu Sans Condensed, DejaVu Sans, Liberation Sans, sans-serif" font-size="12" fill="#7e57c2" textLength="31.0" lengthAdjust="spacingAndGlyphs">47.67</text>
<g transform="translate(10.1,580.9) scale(0.572)" fill="#131722"><path d="M14 22H7V11H0V4h14v18zM28 22h-8l7.5-18h8L28 22z"/><circle cx="20" cy="8" r="4"/></g>
<text x="33.8" y="593.3" font-family="DejaVu Sans Condensed, DejaVu Sans, Liberation Sans, sans-serif" font-size="13" fill="#363a45" textLength="74.6" lengthAdjust="spacingAndGlyphs">TradingView</text>
</svg></body></html>
